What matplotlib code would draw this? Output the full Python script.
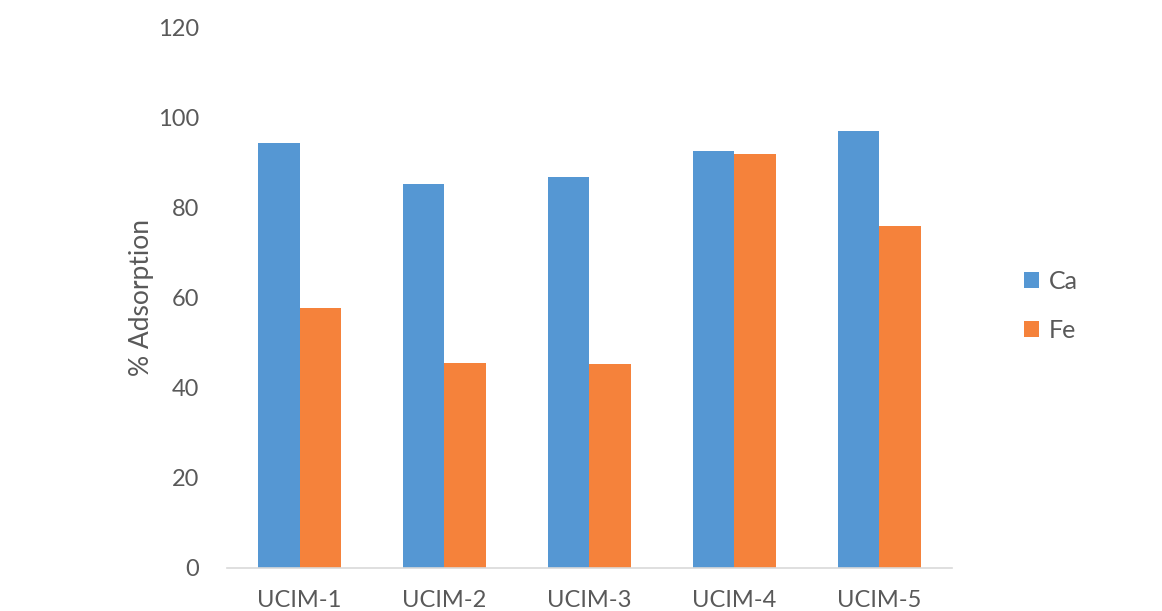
import matplotlib
matplotlib.use("Agg")
import matplotlib.pyplot as plt
import numpy as np

categories = ["UCIM-1", "UCIM-2", "UCIM-3", "UCIM-4", "UCIM-5"]
ca_values = [94.4, 85.4, 86.9, 92.7, 97.0]
fe_values = [57.7, 45.6, 45.3, 92.1, 76.0]
yticks = [0, 20, 40, 60, 80, 100, 120]

plt.rcParams['font.family'] = ['Lato', 'DejaVu Sans']
text_color = "#595959"

fig = plt.figure(figsize=(11.62, 6.11), dpi=100)
ax = fig.add_axes([0.1954, 0.0704, 0.6235, 0.8838])

x = np.arange(len(categories))
w = 1 / 3.5
b1 = ax.bar(x - w / 2, ca_values, width=w, color="#5597D3", label="Ca")
b2 = ax.bar(x + w / 2, fe_values, width=w, color="#F5823B", label="Fe")

ax.set_xlim(-0.5, len(categories) - 0.5)
ax.set_ylim(0, 120)
ax.set_yticks(yticks)
ax.set_yticklabels([str(t) for t in yticks])
ax.set_xticks(x)
ax.set_xticklabels(categories)

for s in ["top", "right", "left"]:
    ax.spines[s].set_visible(False)
ax.spines["bottom"].set_color("#D9D9D9")
ax.spines["bottom"].set_linewidth(1.2)
ax.tick_params(axis="both", length=0, labelsize=17, colors=text_color)
ax.tick_params(axis="y", pad=20)
ax.tick_params(axis="x", pad=16)

ax.set_ylabel("% Adsorption", fontsize=19, color=text_color, labelpad=3)

leg = fig.legend(handles=[b1, b2], labels=["Ca", "Fe"], loc="center left",
                 bbox_to_anchor=(0.862, 0.499), frameon=False, fontsize=18,
                 handlelength=0.6, handleheight=0.6, handletextpad=0.4,
                 labelspacing=1.05)
for t in leg.get_texts():
    t.set_color(text_color)

fig.savefig("out.png", dpi=100)
